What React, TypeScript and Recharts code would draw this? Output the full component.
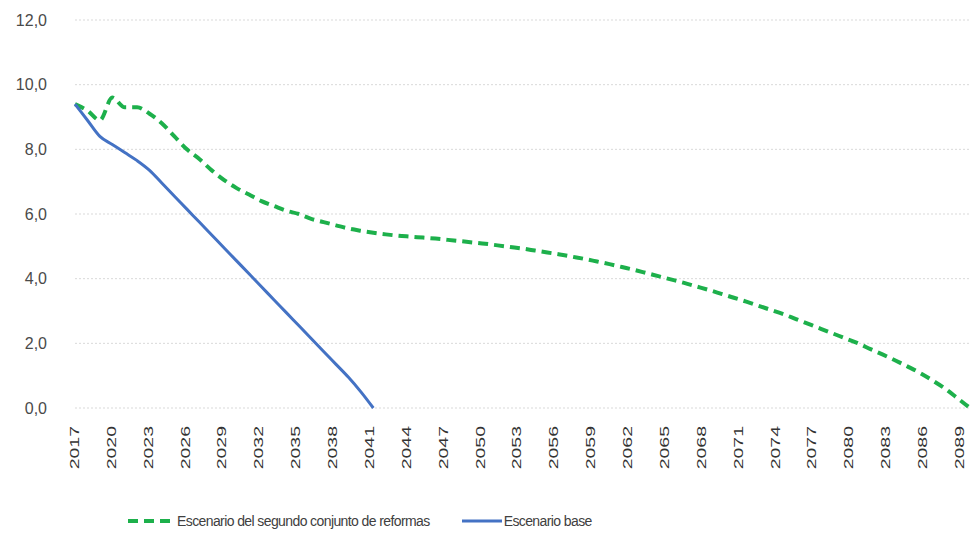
import { LineChart, Line, XAxis, YAxis, CartesianGrid, Legend } from 'recharts'

const years = Array.from({ length: 73 }, (_, i) => String(2017 + i))

// Escenario base (reaches 0 in 2041)
const baseValues = [
  9.4, 8.9, 8.4, 8.15, 7.9, 7.65, 7.35, 6.95, 6.55, 6.15, 5.75, 5.35, 4.95,
  4.55, 4.15, 3.75, 3.35, 2.95, 2.55, 2.15, 1.75, 1.35, 0.95, 0.5, 0.0,
]

// Escenario del segundo conjunto de reformas
const reformValues = [
  9.4, 9.2, 8.9, 9.6, 9.3, 9.3, 9.1, 8.8, 8.4, 8.0, 7.7, 7.35, 7.05, 6.8,
  6.6, 6.4, 6.25, 6.1, 6.0, 5.85, 5.75, 5.65, 5.55, 5.48, 5.42, 5.37, 5.33,
  5.3, 5.27, 5.24, 5.2, 5.16, 5.12, 5.08, 5.03, 4.98, 4.93, 4.87, 4.81, 4.75,
  4.68, 4.61, 4.53, 4.45, 4.36, 4.27, 4.17, 4.07, 3.97, 3.87, 3.76, 3.65,
  3.53, 3.41, 3.29, 3.16, 3.03, 2.9, 2.75, 2.6, 2.45, 2.3, 2.15, 2.0, 1.82,
  1.65, 1.47, 1.28, 1.08, 0.85, 0.6, 0.3, 0.0,
]

const yTicks = [0, 2, 4, 6, 8, 10, 12]

const data = years.map((year, i) => ({
  year,
  reformas: reformValues[i],
  base: i < baseValues.length ? baseValues[i] : null,
}))

const FONT = '"Liberation Sans", Arial, sans-serif'
const GREEN = '#1DB04B'
const BLUE = '#4472C4'

// labels in the source sit slightly left of their points, more so to the right
const YearTick = (props: any) => {
  const { x, y, payload, index } = props
  const dx = 4 - 0.42 * (index || 0)
  return (
    <text
      transform={`translate(${x + dx}, ${y + 10}) rotate(-90) scale(1.5, 1)`}
      textAnchor="end"
      fontSize={13}
      fontFamily={FONT}
      fill="#333"
    >
      {payload.value}
    </text>
  )
}

const renderLegend = () => (
  <div
    style={{
      display: 'flex',
      justifyContent: 'flex-start',
      alignItems: 'center',
      height: 20,
      paddingLeft: 128,
      fontFamily: FONT,
      fontSize: 14,
      letterSpacing: -0.6,
      color: '#404040',
    }}
  >
    <svg width={42} height={10}>
      <line x1={0} y1={5} x2={42} y2={5} stroke={GREEN} strokeWidth={4} strokeDasharray="10 6" />
    </svg>
    <span style={{ marginLeft: 7 }}>Escenario del segundo conjunto de reformas</span>
    <svg width={40} height={10} style={{ marginLeft: 32 }}>
      <line x1={0} y1={5} x2={40} y2={5} stroke={BLUE} strokeWidth={3} />
    </svg>
    <span style={{ marginLeft: 2 }}>Escenario base</span>
  </div>
)

export default function App() {
  return (
    <div style={{ position: 'absolute', left: 0, top: 0, background: '#fff' }}>
      <LineChart
        width={974}
        height={535}
        data={data}
        margin={{ top: 20, right: 4, left: 0, bottom: 4 }}
      >
        <CartesianGrid vertical={false} stroke="#d9d9d9" strokeDasharray="2 2" />
        <XAxis
          dataKey="year"
          interval={2}
          axisLine={false}
          tickLine={false}
          height={103}
          tick={<YearTick />}
        />
        <YAxis
          width={75}
          domain={[0, 12]}
          ticks={yTicks}
          axisLine={false}
          tickLine={false}
          tickMargin={22}
          tickFormatter={(v: number) => v.toFixed(1).replace('.', ',')}
          tick={{ fontSize: 16, fontFamily: FONT, fill: '#4a4a4a' }}
        />
        <Legend verticalAlign="bottom" content={renderLegend} />
        <Line
          type="monotone"
          dataKey="reformas"
          name="Escenario del segundo conjunto de reformas"
          stroke={GREEN}
          strokeWidth={4}
          strokeDasharray="10 6"
          dot={false}
          isAnimationActive={false}
        />
        <Line
          type="monotone"
          dataKey="base"
          name="Escenario base"
          stroke={BLUE}
          strokeWidth={3}
          dot={false}
          connectNulls={false}
          isAnimationActive={false}
        />
      </LineChart>
    </div>
  )
}
